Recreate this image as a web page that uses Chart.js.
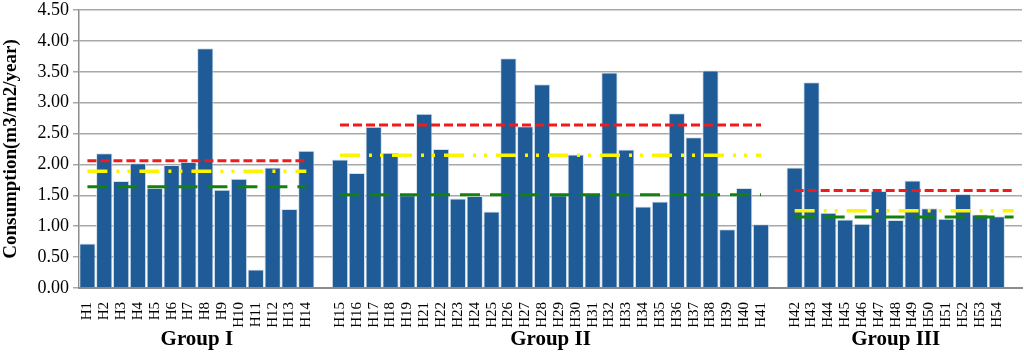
<!DOCTYPE html>
<html>
<head>
<meta charset="utf-8">
<script src="https://cdn.jsdelivr.net/npm/chart.js@4.4.1/dist/chart.umd.min.js"></script>
<style>
  html, body { margin: 0; padding: 0; background: #fff; }
  #wrap { width: 1024px; height: 354px; }
</style>
</head>
<body>
<div id="wrap"><canvas id="chart" width="1024" height="354"></canvas></div>
<script>
// bar values, one array per group
const groupNames = ["Group I", "Group II", "Group III"];
const groupILabels = ["H1","H2","H3","H4","H5","H6","H7","H8","H9","H10","H11","H12","H13","H14"];
const groupIValues = [0.72, 2.18, 1.73, 2.02, 1.62, 1.99, 2.04, 3.88, 1.59, 1.77, 0.30, 1.95, 1.28, 2.22];
const groupIILabels = ["H15","H16","H17","H18","H19","H21","H22","H23","H24","H25","H26","H27","H28",
  "H29","H30","H31","H32","H33","H34","H35","H36","H37","H38","H39","H40","H41"];
const groupIIValues = [2.08, 1.86, 2.61, 2.19, 1.50, 2.82, 2.25, 1.45, 1.49, 1.24, 3.72, 2.62, 3.30,
  1.50, 2.16, 1.51, 3.49, 2.24, 1.32, 1.40, 2.83, 2.44, 3.52, 0.95, 1.62, 1.03];
const groupIIILabels = ["H42","H43","H44","H45","H46","H47","H48","H49","H50","H51","H52","H53","H54"];
const groupIIIValues = [1.95, 3.33, 1.22, 1.11, 1.04, 1.57, 1.10, 1.74, 1.29, 1.12, 1.52, 1.19, 1.16];

// reference lines per group (I, II, III)
const redLevels = [2.06, 2.64, 1.58];
const yellowLevels = [1.89, 2.15, 1.25];
const greenLevels = [1.64, 1.51, 1.15];

const yTicks = [0, 0.5, 1, 1.5, 2, 2.5, 3, 3.5, 4, 4.5];

// build the category axis: groups separated by one empty slot, one trailing slot
const groups = [
  { labels: groupILabels, values: groupIValues },
  { labels: groupIILabels, values: groupIIValues },
  { labels: groupIIILabels, values: groupIIIValues },
];
const labels = [];
const barData = [];
const groupOf = [];      // group index covered by the level lines, or -1
const groupSpan = [];    // [first, last] bar index of each group
groups.forEach((g, gi) => {
  const first = labels.length;
  g.labels.forEach((l, i) => {
    labels.push(l);
    barData.push(g.values[i]);
    groupOf.push(gi);
  });
  groupSpan.push([first, labels.length - 1]);
  labels.push("");
  barData.push(null);
  groupOf.push(gi === groups.length - 1 ? gi : -1);
});

const levelData = (levels) => groupOf.map((gi) => (gi < 0 ? null : levels[gi]));

const serif = "'Liberation Serif', 'Times New Roman', serif";

const groupTitles = {
  id: "groupTitles",
  afterDraw(chart) {
    const { ctx, scales: { x } } = chart;
    ctx.save();
    ctx.font = "bold 21px " + serif;
    ctx.fillStyle = "#000";
    ctx.textAlign = "center";
    ctx.textBaseline = "alphabetic";
    groupSpan.forEach(([a, b], i) => {
      const cx = (x.getPixelForTick(a) + x.getPixelForTick(b)) / 2;
      ctx.fillText(groupNames[i], cx, 345);
    });
    ctx.restore();
  },
};

const lineSet = (data, color, dash, width) => ({
  type: "line",
  data,
  borderColor: color,
  borderWidth: width,
  borderDash: dash,
  pointRadius: 0,
  fill: false,
  spanGaps: false,
  order: 0,
});

new Chart(document.getElementById("chart"), {
  type: "bar",
  data: {
    labels,
    datasets: [
      lineSet(levelData(redLevels), "#f21b1b", [9, 4], 3),
      lineSet(levelData(yellowLevels), "#fbf500", [20, 9, 3, 8, 3, 9], 3.5),
      lineSet(levelData(greenLevels), "#12820f", [20, 10], 3),
      {
        type: "bar",
        data: barData,
        backgroundColor: "#1f5b97",
        borderColor: "#d4e0ec",
        borderWidth: 1,
        barPercentage: 0.97,
        categoryPercentage: 1,
        order: 10,
      },
    ],
  },
  options: {
    responsive: false,
    animation: false,
    layout: { padding: { top: 10, right: 2, left: 0, bottom: 0 } },
    plugins: { legend: { display: false }, tooltip: { enabled: false } },
    scales: {
      x: {
        grid: { display: false },
        border: { color: "#8c8c8c", width: 2 },
        ticks: {
          color: "#000",
          font: { family: serif, size: 15 },
          minRotation: 90,
          maxRotation: 90,
          autoSkip: false,
          padding: 6,
        },
        afterFit: (s) => {
          s.height = 66;
          s.paddingLeft = 0;
          s.paddingRight = 0;
        },
      },
      y: {
        min: 0,
        max: 4.5,
        afterBuildTicks: (s) => { s.ticks = yTicks.map((v) => ({ value: v })); },
        ticks: {
          color: "#000",
          font: { family: serif, size: 18 },
          callback: (v) => v.toFixed(2),
          padding: 4,
        },
        grid: { color: "#a8a8a8", lineWidth: 1.5, tickLength: 6 },
        border: { color: "#8c8c8c", width: 1.5 },
        title: {
          display: true,
          text: "Consumption(m3/m2/year)",
          color: "#000",
          font: { family: serif, size: 19, weight: "bold" },
          padding: { top: 0, bottom: 0 },
        },
        afterFit: (s) => {
          s.width = 79;
          s.paddingTop = 0;
          s.paddingBottom = 0;
        },
      },
    },
  },
  plugins: [groupTitles],
});
</script>
</body>
</html>
